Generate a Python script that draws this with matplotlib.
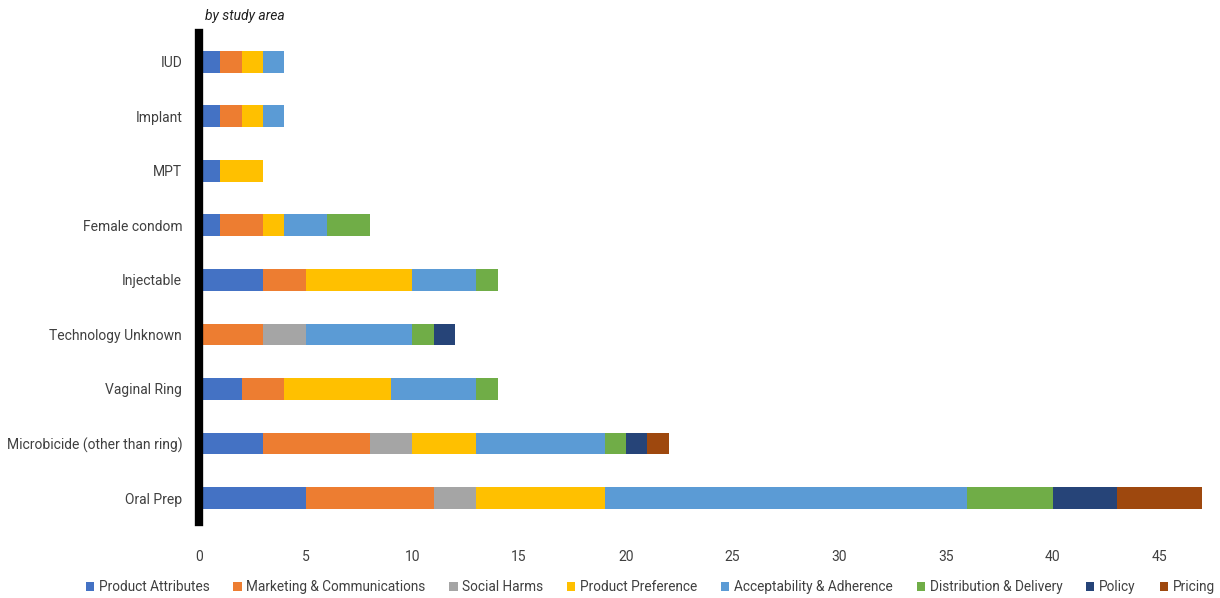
import matplotlib
import numpy as np

matplotlib.use("Agg")
import matplotlib.pyplot as plt

plt.rcParams["font.family"] = ["Roboto", "DejaVu Sans"]

# categories top to bottom as shown
categories = ["IUD", "Implant", "MPT", "Female condom", "Injectable",
              "Technology Unknown", "Vaginal Ring",
              "Microbicide (other than ring)", "Oral Prep"]

series = ["Product Attributes", "Marketing & Communications", "Social Harms",
          "Product Preference", "Acceptability & Adherence",
          "Distribution & Delivery", "Policy", "Pricing"]
colors = ["#4472C4", "#ED7D31", "#A5A5A5", "#FFC000", "#5B9BD5",
          "#70AD47", "#264478", "#9E480E"]

product_attributes = [1, 1, 1, 1, 3, 0, 2, 3, 5]
marketing_comms    = [1, 1, 0, 2, 2, 3, 2, 5, 6]
social_harms       = [0, 0, 0, 0, 0, 2, 0, 2, 2]
product_preference = [1, 1, 2, 1, 5, 0, 5, 3, 6]
accept_adherence   = [1, 1, 0, 2, 3, 5, 4, 6, 17]
distrib_delivery   = [0, 0, 0, 2, 1, 1, 1, 1, 4]
policy             = [0, 0, 0, 0, 0, 1, 0, 1, 3]
pricing            = [0, 0, 0, 0, 0, 0, 0, 1, 4]

values = np.array([product_attributes, marketing_comms, social_harms,
                   product_preference, accept_adherence, distrib_delivery,
                   policy, pricing], dtype=float)

text_col = "#404040"

fig = plt.figure(figsize=(12.2, 5.98), dpi=100)
ax = fig.add_axes([0.163, 0.127, 0.826, 0.818])

y = np.arange(len(categories))[::-1]
left = np.zeros(len(categories))
for k, name in enumerate(series):
    ax.barh(y, values[k], left=left, height=0.4, color=colors[k], label=name)
    left += values[k]

ax.set_xlim(0, 47.2)
ax.set_ylim(-0.44, 8.53)
ax.set_xticks(np.arange(0, 50, 5))
ax.set_yticks(y)
ax.set_yticklabels(categories)
ax.tick_params(axis="both", length=0, labelsize=10, colors=text_col)
ax.tick_params(axis="x", pad=20)
ax.tick_params(axis="y", pad=12)

for s in ["top", "right", "bottom"]:
    ax.spines[s].set_visible(False)
ax.spines["left"].set_linewidth(6)
ax.spines["left"].set_color("black")
ax.spines["left"].set_zorder(5)

fig.text(0.168, 0.973, "by study area", fontsize=10, style="italic",
         color="#202020", va="center", ha="left")

handles, labels = ax.get_legend_handles_labels()
fig.legend(handles, labels, loc="center", bbox_to_anchor=(0.533, 0.018),
           ncol=8, frameon=False, fontsize=9.8, handlelength=0.6,
           handleheight=0.6, handletextpad=0.35, columnspacing=1.75,
           labelcolor=text_col)

fig.savefig("out.png", dpi=100)
